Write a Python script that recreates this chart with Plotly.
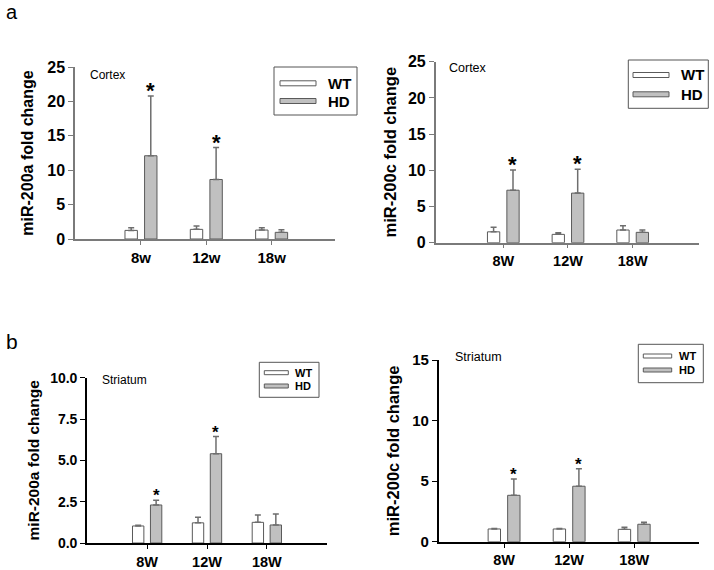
import plotly.graph_objects as go

W, H = 714, 570

# ---------------- data ----------------
cats_a = ["8w", "12w", "18w"]
cats_b = ["8W", "12W", "18W"]

# Panel a-left: Cortex miR-200a
c200a_wt = [1.25, 1.40, 1.30]
c200a_wt_err = [0.40, 0.50, 0.35]
c200a_hd = [12.1, 8.65, 0.97]
c200a_hd_err = [8.7, 4.65, 0.38]
c200a_sig = [True, True, False]

# Panel a-right: Cortex miR-200c
c200c_wt = [1.50, 1.15, 1.75]
c200c_wt_err = [0.65, 0.22, 0.60]
c200c_hd = [7.25, 6.85, 1.43]
c200c_hd_err = [2.80, 3.30, 0.32]
c200c_sig = [True, True, False]

# Panel b-left: Striatum miR-200a
s200a_wt = [1.03, 1.22, 1.25]
s200a_wt_err = [0.05, 0.34, 0.44]
s200a_hd = [2.30, 5.40, 1.09]
s200a_hd_err = [0.28, 1.05, 0.66]
s200a_sig = [True, True, False]

# Panel b-right: Striatum miR-200c
s200c_wt = [1.05, 1.05, 1.02]
s200c_wt_err = [0.05, 0.05, 0.17]
s200c_hd = [3.83, 4.58, 1.44]
s200c_hd_err = [1.35, 1.45, 0.16]
s200c_sig = [True, True, False]

xpos = [1, 2, 3]

FONT = "Liberation Sans, Arial, sans-serif"
WT_FILL = "#ffffff"
HD_FILL = "#c0c0c0"
EDGE = "#5a5a5a"
ERRC = "#6e6e6e"


def px_x(x):
    return x / W


def px_y(y):
    return 1 - y / H


panels = [
    dict(key="", cats=cats_a, wt=c200a_wt, wte=c200a_wt_err, hd=c200a_hd, hde=c200a_hd_err, sig=c200a_sig,
         xd=(75, 335), yd=(239, 67), yr=[0, 25], tickvals=[0, 5, 10, 15, 20, 25], ticktext=None,
         xr=[-0.01, 3.97], title="miR-200a fold change", tfs=16, standoff=10, yfs=16, xfs=15,
         axc="#7a7a7a", axw=1.5, region="Cortex", region_xy=(88, 75), region_fs=12,
         leg=dict(box=(274, 67, 357, 115), sw=(280, 316), wty=83.3, hdy=101, tx=326, fs=15, sh=5),
         star_fs=22, bw=1.0),
    dict(key="2", cats=cats_b, wt=c200c_wt, wte=c200c_wt_err, hd=c200c_hd, hde=c200c_hd_err, sig=c200c_sig,
         xd=(435.7, 699.3), yd=(242.7, 61.7), yr=[0, 25], tickvals=[0, 5, 10, 15, 20, 25], ticktext=None,
         xr=[-0.045, 4.03], title="miR-200c fold change", tfs=16.5, standoff=7, yfs=16, xfs=14.5,
         axc="#7a7a7a", axw=1.5, region="Cortex", region_xy=(447, 68), region_fs=12.5,
         leg=dict(box=(628.3, 60, 708.3, 108.3), sw=(633, 669), wty=75, hdy=94.3, tx=679, fs=15, sh=5),
         star_fs=22, bw=1.0),
    dict(key="3", cats=cats_b, wt=s200a_wt, wte=s200a_wt_err, hd=s200a_hd, hde=s200a_hd_err, sig=s200a_sig,
         xd=(87.3, 326.7), yd=(543, 377.7), yr=[0, 10], tickvals=[0, 2.5, 5, 7.5, 10],
         ticktext=["0.0", "2.5", "5.0", "7.5", "10.0"],
         xr=[0, 4.0], title="miR-200a fold change", tfs=15.5, standoff=7, yfs=14, xfs=14.5,
         axc="#000000", axw=2.2, region="Striatum", region_xy=(100, 380), region_fs=12,
         leg=dict(box=(259.3, 362.3, 319, 397.3), sw=(264.3, 288.3), wty=372.7, hdy=386, tx=293.3, fs=11, sh=4),
         star_fs=17, bw=1.0),
    dict(key="4", cats=cats_b, wt=s200c_wt, wte=s200c_wt_err, hd=s200c_hd, hde=s200c_hd_err, sig=s200c_sig,
         xd=(439, 699.3), yd=(541.7, 360), yr=[0, 15], tickvals=[0, 5, 10, 15], ticktext=None,
         xr=[0, 4.0], title="miR-200c fold change", tfs=16.5, standoff=8, yfs=15, xfs=14.5,
         axc="#000000", axw=2.2, region="Striatum", region_xy=(452.7, 356.7), region_fs=12.5,
         leg=dict(box=(638.3, 344.3, 703.3, 382.7), sw=(643.3, 671.7), wty=356, hdy=370, tx=676.7, fs=11, sh=4),
         star_fs=17, bw=1.0),
]

fig = go.Figure()
shapes = []
annotations = []
BAR_W = 0.19

for p in panels:
    xa = "x" + p["key"]
    ya = "y" + p["key"]
    fig.add_trace(go.Bar(
        x=xpos, y=p["wt"], xaxis=xa, yaxis=ya, width=BAR_W, offset=-0.245,
        marker=dict(color=WT_FILL, line=dict(color=EDGE, width=p["bw"])),
        error_y=dict(type="data", symmetric=False, array=p["wte"], arrayminus=[0, 0, 0],
                     color=ERRC, thickness=1.5, width=3),
        showlegend=False, name="WT"))
    fig.add_trace(go.Bar(
        x=xpos, y=p["hd"], xaxis=xa, yaxis=ya, width=BAR_W, offset=0.055,
        marker=dict(color=HD_FILL, line=dict(color=EDGE, width=p["bw"])),
        error_y=dict(type="data", symmetric=False, array=p["hde"], arrayminus=[0, 0, 0],
                     color=ERRC, thickness=1.5, width=3),
        showlegend=False, name="HD"))

    xkey = "xaxis" + p["key"]
    ykey = "yaxis" + p["key"]
    fig.layout[xkey] = dict(
        domain=[px_x(p["xd"][0]), px_x(p["xd"][1])], anchor=ya, range=p["xr"],
        tickvals=xpos, ticktext=p["cats"], showline=True, linecolor=p["axc"], linewidth=p["axw"],
        ticks="outside", ticklen=4, tickwidth=1.2, tickcolor=p["axc"], showgrid=False, zeroline=False,
        tickfont=dict(family=FONT, size=p["xfs"], color="black", weight="bold"), automargin=False,
        fixedrange=True)
    fig.layout[ykey] = dict(
        domain=[px_y(p["yd"][0]), px_y(p["yd"][1])], anchor=xa, range=p["yr"],
        tickvals=p["tickvals"], ticktext=p["ticktext"], showline=True, linecolor=p["axc"],
        linewidth=p["axw"], ticks="outside", ticklen=5, tickwidth=1.2, tickcolor=p["axc"],
        showgrid=False, zeroline=False,
        tickfont=dict(family=FONT, size=p["yfs"], color="black", weight="bold"),
        title=dict(text=p["title"], font=dict(family=FONT, size=p["tfs"], color="black", weight="bold"),
                   standoff=p["standoff"]),
        automargin=False, fixedrange=True)

    # significance asterisks
    for i, s in enumerate(p["sig"]):
        if s:
            annotations.append(dict(
                x=xpos[i] + 0.15, y=p["hd"][i] + p["hde"][i], xref=xa, yref=ya, text="*",
                showarrow=False, yanchor="bottom", yshift=-p["star_fs"] * 0.42,
                font=dict(family=FONT, size=p["star_fs"], color="black", weight="bold")))

    # region label
    rx, ry = p["region_xy"]
    annotations.append(dict(x=px_x(rx), y=px_y(ry), xref="paper", yref="paper", text=p["region"],
                            showarrow=False, xanchor="left", yanchor="middle",
                            font=dict(family=FONT, size=p["region_fs"], color="black")))

    # legend box
    lg = p["leg"]
    bx0, by0, bx1, by1 = lg["box"]
    shapes.append(dict(type="rect", xref="paper", yref="paper", x0=px_x(bx0), x1=px_x(bx1),
                       y0=px_y(by1), y1=px_y(by0), line=dict(color="#555555", width=1),
                       fillcolor="rgba(0,0,0,0)"))
    for lab, yy, fill in (("WT", lg["wty"], WT_FILL), ("HD", lg["hdy"], HD_FILL)):
        shapes.append(dict(type="rect", xref="paper", yref="paper", x0=px_x(lg["sw"][0]),
                           x1=px_x(lg["sw"][1]), y0=px_y(yy + lg["sh"] / 2), y1=px_y(yy - lg["sh"] / 2),
                           line=dict(color=EDGE, width=1), fillcolor=fill))
        annotations.append(dict(x=px_x(lg["tx"]), y=px_y(yy), xref="paper", yref="paper", text=lab,
                                showarrow=False, xanchor="left", yanchor="middle",
                                font=dict(family=FONT, size=lg["fs"], color="black", weight="bold")))

# panel letters
annotations.append(dict(x=px_x(4), y=px_y(12), xref="paper", yref="paper", text="a", showarrow=False,
                        xanchor="left", yanchor="middle", font=dict(family=FONT, size=20, color="black")))
annotations.append(dict(x=px_x(4), y=px_y(341), xref="paper", yref="paper", text="b", showarrow=False,
                        xanchor="left", yanchor="middle", font=dict(family=FONT, size=21, color="black")))

fig.update_layout(
    width=W, height=H, margin=dict(l=0, r=0, t=0, b=0),
    paper_bgcolor="white", plot_bgcolor="white", barmode="overlay",
    shapes=shapes, annotations=annotations, showlegend=False,
    font=dict(family=FONT, color="black"))

fig.write_html(
    "out.html",
    config={"displayModeBar": False},
    post_script="document.body.style.margin='0';document.body.style.padding='0';"
                "document.body.style.overflow='hidden';",
)
